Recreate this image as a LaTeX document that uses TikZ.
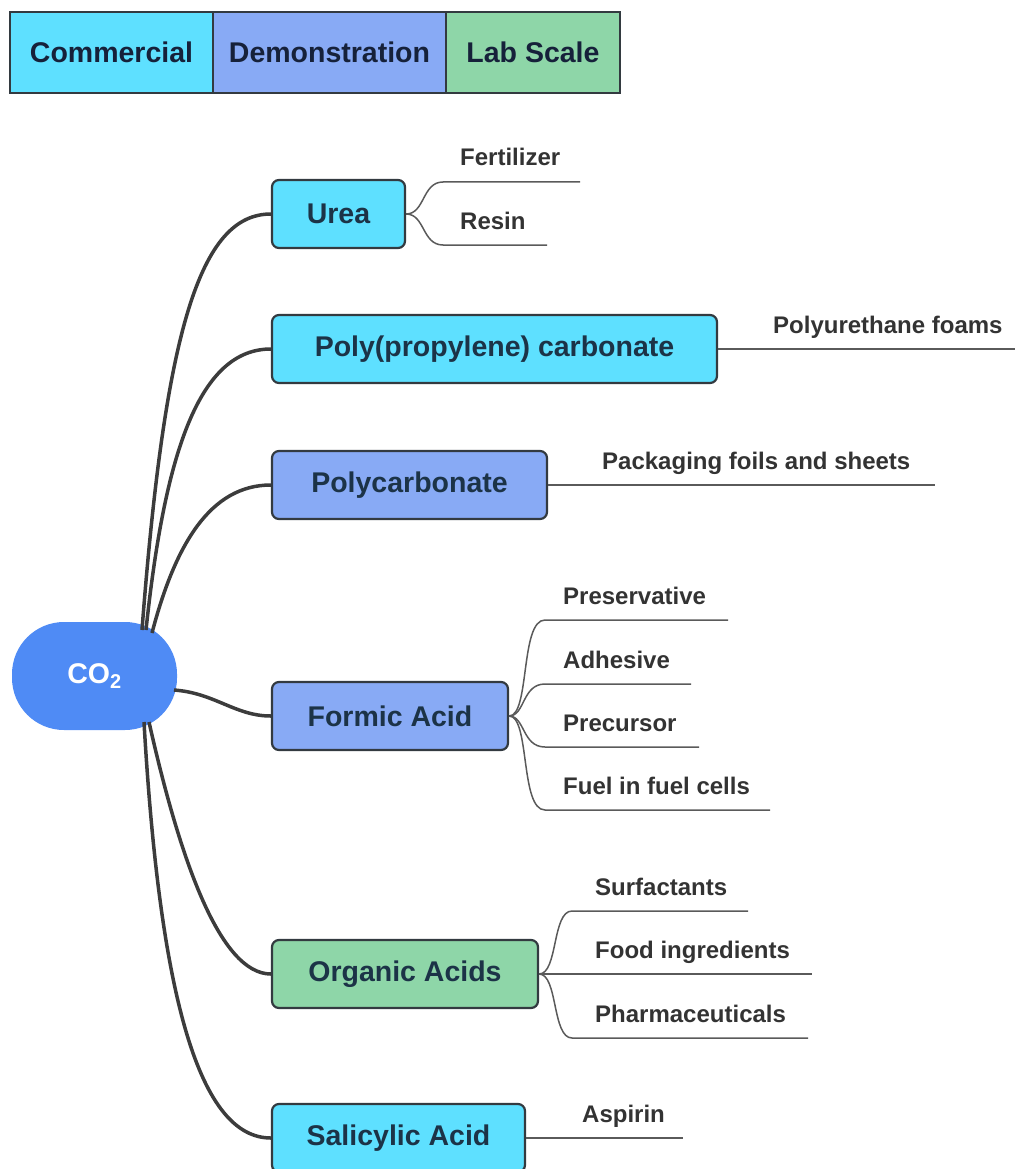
\documentclass[tikz,border=0pt]{standalone}
\usepackage{fontspec}
\setmainfont{Liberation Sans}
\definecolor{commc}{HTML}{5EE0FF}
\definecolor{democ}{HTML}{88AAF5}
\definecolor{labc}{HTML}{8ED6A8}
\definecolor{co2c}{HTML}{4F8BF5}
\definecolor{bordc}{HTML}{333A40}
\definecolor{maintxt}{HTML}{1C3347}
\definecolor{legtxt}{HTML}{16213A}
\definecolor{subtxt}{HTML}{333333}
\definecolor{connc}{HTML}{3C3C3C}
\definecolor{subc}{HTML}{5A5A5A}
\newcommand\mainfs{\fontsize{28.5}{30}\selectfont\bfseries}
\newcommand\subfs{\fontsize{24}{26}\selectfont\bfseries}
\begin{document}
\begin{tikzpicture}[x=1pt,y=-1pt,
  legbox/.style={draw=bordc, line width=1.2pt, minimum height=81pt, inner sep=0pt, font=\mainfs, text=legtxt},
  mainbox/.style={draw=bordc, line width=2.2pt, rounded corners=7pt, minimum height=68pt, inner sep=0pt, font=\mainfs, text=maintxt},
  co2box/.style={fill=co2c, rounded corners=52pt, minimum width=165pt, minimum height=108pt, inner sep=0pt, font=\mainfs, text=white},
  conn/.style={draw=connc, line width=3.5pt},
  subline/.style={draw=subc, line width=1.5pt},
  subtext/.style={anchor=base west, inner sep=0pt, font=\subfs, text=subtxt}]
\useasboundingbox (0,0) rectangle (1015,1169);

% legend
\node[legbox, fill=commc, minimum width=203pt] (lc) at (111.5,52.5) {Commercial};
\node[legbox, fill=democ, minimum width=233pt] (ld) at (329.5,52.5) {Demonstration};
\node[legbox, fill=labc, minimum width=174pt] (ll) at (533,52.5) {Lab Scale};

% central node
\node[co2box] (co2) at (94.5,676) {CO\textsubscript{2}};
\coordinate (cA) at (142,630);
\coordinate (cB) at (146,630);
\coordinate (cC) at (152,633);
\coordinate (cD) at (174,690);
\coordinate (cE) at (149,722);
\coordinate (cF) at (144,722);

% main nodes
\node[mainbox, fill=commc, minimum width=133pt] (urea) at (338.5,214) {Urea};
\node[mainbox, fill=commc, minimum width=445pt] (ppc) at (494.5,349) {Poly(propylene) carbonate};
\node[mainbox, fill=democ, minimum width=275pt] (pc) at (409.5,485) {Polycarbonate};
\node[mainbox, fill=democ, minimum width=236pt] (fa) at (390,716) {Formic Acid};
\node[mainbox, fill=labc, minimum width=266pt] (oa) at (405,974) {Organic Acids};
\node[mainbox, fill=commc, minimum width=253pt] (sa) at (398.5,1138) {Salicylic Acid};

% connectors
\draw[conn] (cA) .. controls (165,330) and (200,214) .. (urea.west);
\draw[conn] (cB) .. controls (165,450) and (200,349) .. (ppc.west);
\draw[conn] (cC) .. controls (175,545) and (210,485) .. (pc.west);
\draw[conn] (cD) .. controls (215,693) and (235,716) .. (fa.west);
\draw[conn] (cE) .. controls (180,860) and (220,974) .. (oa.west);
\draw[conn] (cF) .. controls (160,1000) and (200,1138) .. (sa.west);

% underline end points
\coordinate (eFert) at (580,182);
\coordinate (eRes) at (547,245);
\coordinate (ePu) at (1015,349);
\coordinate (ePack) at (935,485);
\coordinate (ePres) at (728,620);
\coordinate (eAdh) at (691,684);
\coordinate (ePrec) at (699,747);
\coordinate (eFuel) at (770,810);
\coordinate (eSurf) at (748,911);
\coordinate (eFood) at (812,974);
\coordinate (ePharm) at (808,1038);
\coordinate (eAsp) at (683,1138);

% sub branches
\draw[subline] (urea.east) .. controls (425,214) and (422,182) .. (443,182) -- (eFert);
\draw[subline] (urea.east) .. controls (425,214) and (422,245) .. (443,245) -- (eRes);
\draw[subline] (ppc.east) -- (ePu);
\draw[subline] (pc.east) -- (ePack);
\draw[subline] (fa.east) .. controls (530,716) and (520,620) .. (545,620) -- (ePres);
\draw[subline] (fa.east) .. controls (525,716) and (522,684) .. (545,684) -- (eAdh);
\draw[subline] (fa.east) .. controls (525,716) and (522,747) .. (545,747) -- (ePrec);
\draw[subline] (fa.east) .. controls (530,716) and (520,810) .. (545,810) -- (eFuel);
\draw[subline] (oa.east) .. controls (558,974) and (552,911) .. (572,911) -- (eSurf);
\draw[subline] (oa.east) -- (eFood);
\draw[subline] (oa.east) .. controls (558,974) and (552,1038) .. (572,1038) -- (ePharm);
\draw[subline] (sa.east) -- (eAsp);

% sub texts
\node[subtext] (tFert) at (460,166) {Fertilizer};
\node[subtext] (tRes) at (460,229) {Resin};
\node[subtext] (tPu) at (773,333) {Polyurethane foams};
\node[subtext] (tPack) at (602,469) {Packaging foils and sheets};
\node[subtext] (tPres) at (563,604) {Preservative};
\node[subtext] (tAdh) at (563,668) {Adhesive};
\node[subtext] (tPrec) at (563,731) {Precursor};
\node[subtext] (tFuel) at (563,794) {Fuel in fuel cells};
\node[subtext] (tSurf) at (595,895) {Surfactants};
\node[subtext] (tFood) at (595,958) {Food ingredients};
\node[subtext] (tPharm) at (595,1022) {Pharmaceuticals};
\node[subtext] (tAsp) at (582,1122) {Aspirin};
\end{tikzpicture}
\end{document}
